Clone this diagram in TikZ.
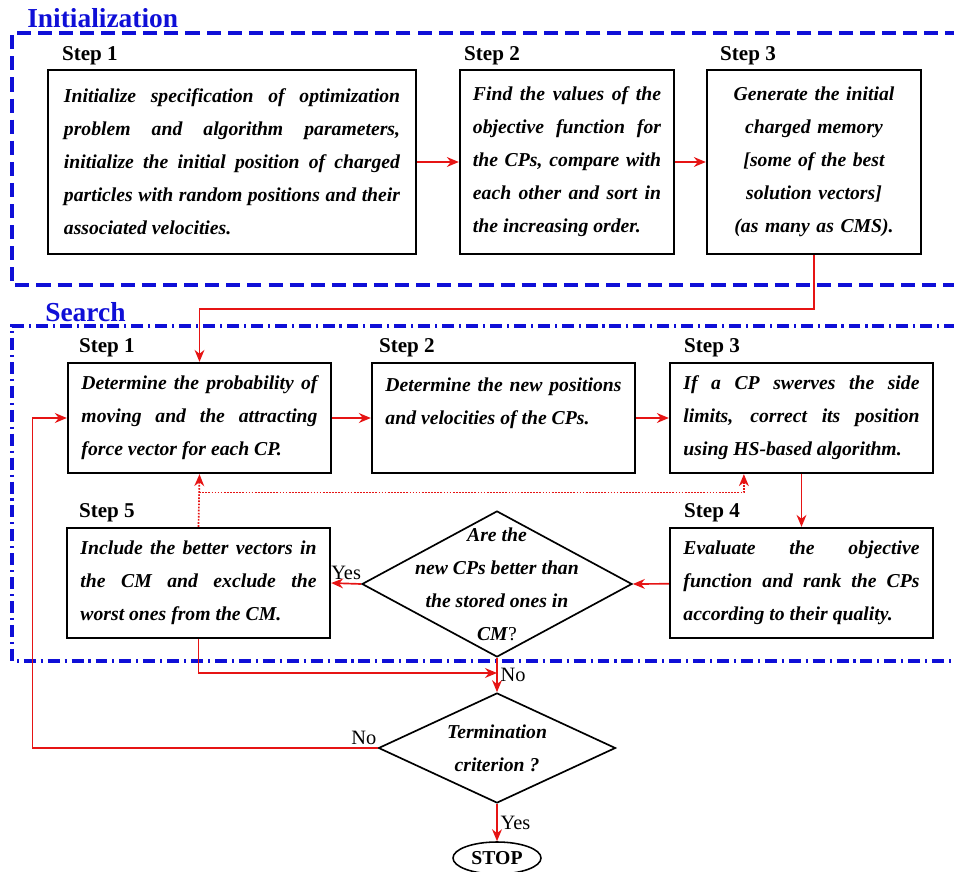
\documentclass[tikz,border=0pt]{standalone}
\usepackage{fontspec}
\setmainfont{Liberation Serif}
\usetikzlibrary{arrows.meta,shapes.geometric,calc}
\definecolor{framecol}{RGB}{15,15,215}
\definecolor{linkcol}{RGB}{230,20,20}
\newcommand{\bodyfont}{\fontsize{14}{23.5}\selectfont\bfseries\itshape}
\tikzset{%
  every step/.style={
    draw,
    line width=1.6pt,
    inner sep=0pt,
    font=\bodyfont
  },
  init step/.style={
    every step,
    minimum height=4.6cm
  },
  search step/.style={
    every step,
    minimum width=6.575cm,
    minimum height=2.75cm,
    text width=5.9cm,
    align=justify
  },
  step label/.style={anchor=base west, inner sep=0pt, font=\fontsize{15}{18}\selectfont\bfseries},
  part label/.style={anchor=base west, inner sep=0pt, text=framecol, font=\fontsize{19.5}{22}\selectfont\bfseries},
  decision/.style={diamond, draw, line width=1.2pt, inner sep=0pt},
  answer/.style={text=black, font=\fontsize{14.5}{16}\selectfont, inner sep=2pt},
  link/.style={linkcol, line width=1.2pt, ->},
}

\begin{document}
\begin{tikzpicture}[x=0.025cm, y=-0.025cm, > = {Stealth[length=8.5pt,width=7pt]}]
\useasboundingbox (0,0) rectangle (954,872);
\clip (0,0) rectangle (954,872);

% the two frames
\draw[framecol, line width=2.2pt, dash pattern=on 10pt off 5pt] (980,33) -- (12,33) -- (12,285) -- (980,285);
\draw[framecol, line width=2.2pt, dash pattern=on 8.5pt off 3.5pt on 1.5pt off 3.5pt] (980,326) -- (12,326) -- (12,661) -- (980,661);
\node[part label] (init) at (27,28) {Initialization};
\node[part label] (search) at (45,322) {Search};

% initialization
\node[init step, minimum width=9.2cm, text width=8.4cm, align=justify] (i1) at (232,162)
  {Initialize specification of optimization\linebreak problem and algorithm parameters,\linebreak initialize the initial position of charged\linebreak particles with random positions and their\linebreak associated velocities.};
\node[init step, minimum width=5.35cm, text width=4.7cm, align=justify] (i2) at (567,162)
  {Find the values of the\linebreak objective function for\linebreak the CPs, compare with\linebreak each other and sort in\linebreak the increasing order.};
\node[init step, minimum width=5.35cm, text width=4.7cm, align=center] (i3) at (814,162)
  {Generate the initial\\ charged memory\\ {[}some of the best\\ solution vectors{]}\\ (as many as CMS).};
\node[step label] (li1) at ([xshift=0.375cm,yshift=0.22cm]i1.north west) {Step 1};
\node[step label] (li2) at ([xshift=0.125cm,yshift=0.22cm]i2.north west) {Step 2};
\node[step label] (li3) at ([xshift=0.35cm,yshift=0.22cm]i3.north west) {Step 3};

% search
\node[search step] (s1) at (199.5,418) {Determine the probability of\linebreak moving and the attracting\linebreak force vector for each CP.};
\node[search step] (s2) at (503.5,418) {Determine the new positions\linebreak and velocities of the CPs.\par\mbox{}};
\node[search step] (s3) at (801.5,418) {If a CP swerves the side\linebreak limits, correct its position\linebreak using HS-based algorithm.};
\node[search step] (s4) at (801.5,583) {Evaluate the objective\linebreak function and rank the CPs\linebreak according to their quality.};
\node[search step] (s5) at (198.5,583) {Include the better vectors in\linebreak the CM and exclude the\linebreak worst ones from the CM.};
\node[step label] (ls1) at ([xshift=0.3cm,yshift=0.23cm]s1.north west) {Step 1};
\node[step label] (ls2) at ([xshift=0.2cm,yshift=0.23cm]s2.north west) {Step 2};
\node[step label] (ls3) at ([xshift=0.375cm,yshift=0.23cm]s3.north west) {Step 3};
\node[step label] (ls4) at ([xshift=0.375cm,yshift=0.23cm]s4.north west) {Step 4};
\node[step label] (ls5) at ([xshift=0.325cm,yshift=0.23cm]s5.north west) {Step 5};

% decisions
\node[decision, minimum width=6.75cm, minimum height=3.65cm] (q1) at (497,584) {};
\node[font=\bodyfont, align=center] (q1text) at (q1) {Are the\\ new CPs better than\\ the stored ones in\\ CM\textup{\mdseries ?}};
\node[decision, minimum width=5.925cm, minimum height=2.75cm] (q2) at (497,748) {};
\node[font=\bodyfont, align=center] (q2text) at (q2) {Termination\\ criterion ?};
\node[ellipse, draw, line width=1.1pt, minimum width=2.2cm, minimum height=0.8cm, inner sep=0pt,
  font=\fontsize{14}{16}\selectfont\bfseries] (stop) at (497,858) {STOP};

% connectors
\coordinate (join) at (497,673);
\coordinate (back) at ($(s1.south)!0.35!(s5.north)$);
\draw[link] (i1) -- (i2);
\draw[link] (i2) -- (i3);
\draw[link] (i3.south) -- ++(0,54) -| (s1.north);
\draw[link] (s1) -- (s2);
\draw[link] (s2) -- (s3);
\draw[link] (s3) -- (s4);
\draw[link] (s4) -- (q1.east);
\draw[link] (q1.west) -- node[answer, above] (yes1) {Yes} (s5.east);
\draw[link] (q1.south) -- node[answer, right] (no1) {No} (q2.north);
\draw[link] (s5.south) |- (join);
\draw[link] (q2.west) -- node[answer, pos=0.04, above] (no2) {No} ++(-345,0) |- (s1.west);
\draw[link] (q2.south) -- node[answer, right] (yes2) {Yes} (stop.north);
\draw[link, densely dotted] (s5.north) -- (s1.south);
\draw[link, densely dotted] (back) -| ([xshift=-1.44cm]s3.south);
\end{tikzpicture}
\end{document}
